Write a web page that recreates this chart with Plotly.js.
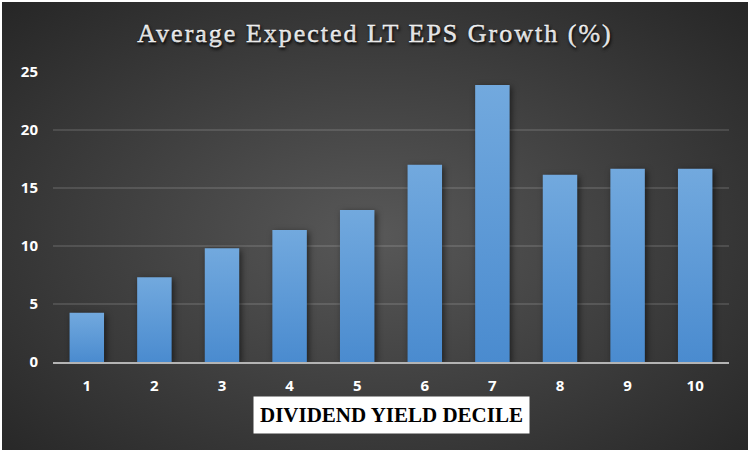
<!DOCTYPE html>
<html>
<head>
<meta charset="utf-8">
<script src="https://cdn.plot.ly/plotly-3.0.1.min.js"></script>
<style>
  html, body { margin: 0; padding: 0; background: #ffffff; }
  #chart {
    position: absolute; left: 2px; top: 2px; width: 746px; height: 448px;
    background: radial-gradient(ellipse farthest-corner at 50% 52%, #585858 0%, #444444 40%, #262626 100%);
  }
  .gtitle { letter-spacing: 2px; stroke: #ffffff; stroke-width: 0.35px; }
  .bars .point path {
    fill: url(#barGrad) !important;
    filter: drop-shadow(2px 2px 3px rgba(0,0,0,0.55));
  }
</style>
</head>
<body>
<div id="chart"></div>
<script>
const categories = ['1', '2', '3', '4', '5', '6', '7', '8', '9', '10'];
const epsGrowth = [4.25, 7.3, 9.8, 11.37, 13.1, 17.0, 23.87, 16.15, 16.67, 16.67];
const yTicks = [0, 5, 10, 15, 20, 25];

const trace = {
  type: 'bar',
  x: categories,
  y: epsGrowth,
  marker: { color: '#5b9bd5' },
  hoverinfo: 'x+y'
};

const tickFont = { family: 'Open Sans, sans-serif', size: 15, color: '#ffffff', weight: 700 };

const layout = {
  width: 746,
  height: 448,
  paper_bgcolor: 'rgba(0,0,0,0)',
  plot_bgcolor: 'rgba(0,0,0,0)',
  margin: { l: 51, r: 19, t: 70, b: 88 },
  bargap: 0.49,
  showlegend: false,
  title: {
    text: 'Average Expected LT EPS Growth (%)',
    font: { family: 'Liberation Serif, serif', size: 26, color: '#ffffff', shadow: '1px 2px 3px rgba(0,0,0,0.9)' },
    x: 0.5, xanchor: 'center',
    y: 1 - 31 / 448, yanchor: 'middle', yref: 'container'
  },
  xaxis: {
    type: 'category',
    tickfont: tickFont,
    showgrid: false,
    showline: true,
    linecolor: '#b4b4b4',
    linewidth: 2,
    ticks: '',
    ticklabelstandoff: 9
  },
  yaxis: {
    range: [0, 25],
    tickvals: yTicks,
    ticktext: yTicks.map(String),
    tickfont: tickFont,
    showgrid: true,
    gridcolor: 'rgba(255,255,255,0.12)',
    gridwidth: 1.5,
    zeroline: false,
    showline: false,
    ticks: '',
    ticklabelstandoff: 14
  },
  annotations: [{
    text: 'DIVIDEND YIELD DECILE',
    xref: 'paper', yref: 'paper',
    x: 0.5, y: -0.184,
    xanchor: 'center', yanchor: 'middle',
    showarrow: false,
    font: { family: 'Liberation Serif, serif', size: 21, color: '#000000', weight: 'bold' },
    bgcolor: '#ffffff',
    borderpad: 6
  }]
};

Plotly.newPlot('chart', [trace], layout, { displayModeBar: false, staticPlot: true }).then(function (gd) {
  const svgNS = 'http://www.w3.org/2000/svg';
  const svg = gd.querySelector('svg.main-svg');
  let defs = svg.querySelector('defs');
  if (!defs) { defs = document.createElementNS(svgNS, 'defs'); svg.insertBefore(defs, svg.firstChild); }
  const grad = document.createElementNS(svgNS, 'linearGradient');
  grad.setAttribute('id', 'barGrad');
  grad.setAttribute('x1', '0'); grad.setAttribute('y1', '0');
  grad.setAttribute('x2', '0'); grad.setAttribute('y2', '1');
  [['0%', '#72a9de'], ['100%', '#4a8bcf']].forEach(function (s) {
    const stop = document.createElementNS(svgNS, 'stop');
    stop.setAttribute('offset', s[0]);
    stop.setAttribute('stop-color', s[1]);
    grad.appendChild(stop);
  });
  defs.appendChild(grad);
});
</script>
</body>
</html>
